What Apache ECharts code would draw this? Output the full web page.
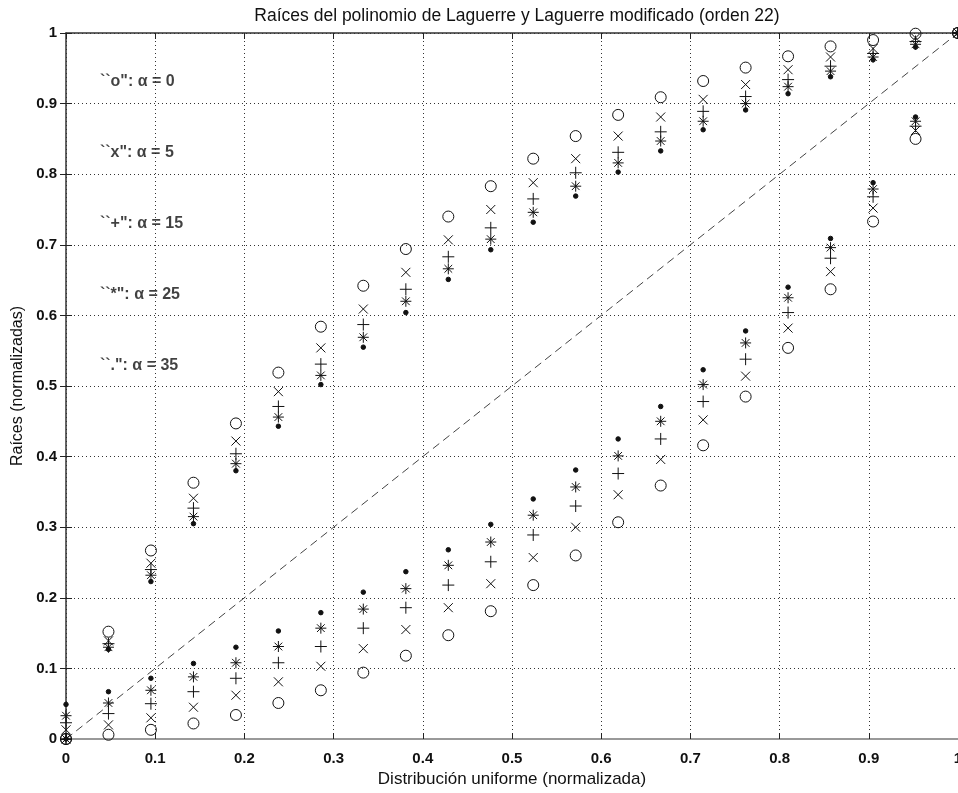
<!DOCTYPE html>
<html>
<head>
<meta charset="utf-8">
<script src="https://cdn.jsdelivr.net/npm/echarts@6/dist/echarts.min.js"></script>
<style>
html,body{margin:0;padding:0;background:#fff;}
#chart{width:958px;height:793px;}
</style>
</head>
<body>
<div id="chart"></div>
<script>
// Uniform distribution positions (normalized), 22 points
const xUniform = [0, 0.0476, 0.0952, 0.1429, 0.1905, 0.2381, 0.2857, 0.3333, 0.3810, 0.4286, 0.4762,
  0.5238, 0.5714, 0.6190, 0.6667, 0.7143, 0.7619, 0.8095, 0.8571, 0.9048, 0.9524, 1];

// Upper branch of roots
const upperA0  = [0, 0.152, 0.267, 0.363, 0.447, 0.519, 0.584, 0.642, 0.694, 0.740, 0.783, 0.822, 0.854, 0.884, 0.909, 0.932, 0.951, 0.967, 0.981, 0.990, 0.999, 1];
const upperA5  = [0, 0.139, 0.249, 0.341, 0.422, 0.492, 0.554, 0.609, 0.661, 0.707, 0.750, 0.788, 0.822, 0.854, 0.881, 0.906, 0.927, 0.948, 0.966, 0.978, 0.993, 1];
const upperA15 = [0, 0.135, 0.240, 0.327, 0.404, 0.471, 0.531, 0.587, 0.637, 0.683, 0.724, 0.765, 0.802, 0.831, 0.860, 0.889, 0.910, 0.934, 0.953, 0.971, 0.988, 1];
const upperA25 = [0, 0.130, 0.232, 0.315, 0.390, 0.456, 0.515, 0.569, 0.620, 0.666, 0.708, 0.746, 0.783, 0.816, 0.847, 0.875, 0.900, 0.924, 0.946, 0.966, 0.984, 1];
const upperA35 = [0, 0.127, 0.223, 0.305, 0.380, 0.443, 0.502, 0.555, 0.604, 0.651, 0.693, 0.732, 0.769, 0.803, 0.833, 0.863, 0.891, 0.914, 0.938, 0.962, 0.980, 1];

// Lower branch of roots
const lowerA0  = [0, 0.006, 0.013, 0.022, 0.034, 0.051, 0.069, 0.094, 0.118, 0.147, 0.181, 0.218, 0.260, 0.307, 0.359, 0.416, 0.485, 0.554, 0.637, 0.733, 0.850, 1];
const lowerA5  = [0.013, 0.020, 0.030, 0.045, 0.062, 0.081, 0.103, 0.128, 0.155, 0.186, 0.220, 0.257, 0.300, 0.346, 0.396, 0.452, 0.514, 0.582, 0.662, 0.752, 0.862, 1];
const lowerA15 = [0.023, 0.036, 0.050, 0.067, 0.086, 0.108, 0.131, 0.157, 0.186, 0.218, 0.251, 0.289, 0.330, 0.376, 0.425, 0.478, 0.538, 0.604, 0.681, 0.768, 0.868, 1];
const lowerA25 = [0.033, 0.051, 0.069, 0.088, 0.108, 0.131, 0.157, 0.184, 0.213, 0.246, 0.279, 0.317, 0.357, 0.401, 0.450, 0.502, 0.561, 0.625, 0.696, 0.779, 0.875, 1];
const lowerA35 = [0.049, 0.067, 0.086, 0.107, 0.130, 0.153, 0.179, 0.208, 0.237, 0.268, 0.304, 0.340, 0.381, 0.425, 0.471, 0.523, 0.578, 0.640, 0.709, 0.788, 0.881, 1];

// Annotation texts and their anchor points
const noteTexts = ['``o": \u03b1 = 0', '``x": \u03b1 = 5', '``+": \u03b1 = 15', '``*": \u03b1 = 25', '``.": \u03b1 = 35'];
const noteX = [0.038, 0.038, 0.038, 0.038, 0.038];
const noteY = [0.931, 0.830, 0.730, 0.629, 0.529];

const diagonal = [[0, 0], [1, 1]];

const FONT = '"Liberation Sans", Arial, Helvetica, sans-serif';

function pts(ys) { return xUniform.map((x, i) => [x, ys[i]]); }

const markerDefs = [
  { name: 'o', up: upperA0, low: lowerA0, symbol: 'circle', size: 11, fill: 'rgba(0,0,0,0)' },
  { name: 'x', up: upperA5, low: lowerA5, symbol: 'path://M0,0L10,10M10,0L0,10', size: 9, fill: 'rgba(0,0,0,0)' },
  { name: '+', up: upperA15, low: lowerA15, symbol: 'path://M5,0L5,10M0,5L10,5', size: 12, fill: 'rgba(0,0,0,0)' },
  { name: '*', up: upperA25, low: lowerA25, symbol: 'path://M5,0L5,10M0,5L10,5M1.5,1.5L8.5,8.5M8.5,1.5L1.5,8.5', size: 11, fill: 'rgba(0,0,0,0)' },
  { name: '.', up: upperA35, low: lowerA35, symbol: 'circle', size: 4.5, fill: '#111' }
];

const series = [{
  type: 'line',
  data: diagonal,
  symbol: 'none',
  lineStyle: { color: '#444', width: 1, type: [8, 5] },
  z: 1,
  silent: true
}];

markerDefs.forEach(m => {
  series.push({
    type: 'scatter',
    name: m.name,
    data: pts(m.up).concat(pts(m.low)),
    symbol: m.symbol,
    symbolSize: m.size,
    itemStyle: { color: m.fill, borderColor: '#111', borderWidth: 1, opacity: 1 },
    z: 3,
    silent: true
  });
});

series.push({
  type: 'scatter',
  data: noteTexts.map((t, i) => ({ value: [noteX[i], noteY[i]], label: { formatter: t } })),
  symbolSize: 0,
  label: { show: true, position: 'right', distance: 0, fontFamily: FONT, fontSize: 16, fontWeight: 'bold', color: '#111' },
  silent: true,
  z: 4
});

const chart = echarts.init(document.getElementById('chart'), null, { renderer: 'canvas' });
chart.setOption({
  animation: false,
  backgroundColor: '#fff',
  title: {
    text: 'Raíces del polinomio de Laguerre y Laguerre modificado (orden 22)',
    left: 512, textAlign: 'center', top: 2,
    textStyle: { fontFamily: FONT, fontSize: 17.5, fontWeight: 'normal', color: '#111' }
  },
  grid: { left: 66, right: 0, top: 33, bottom: 54, outerBoundsMode: 'none', containLabel: false },
  xAxis: [{
    type: 'value', min: 0, max: 1, interval: 0.1,
    name: 'Distribución uniforme (normalizada)', nameLocation: 'middle', nameGap: 29,
    nameTextStyle: { fontFamily: FONT, fontSize: 17, color: '#111' },
    axisLine: { show: true, lineStyle: { color: '#999', width: 2 } },
    axisTick: { show: true, inside: true, length: 6, lineStyle: { color: '#222' } },
    axisLabel: { fontFamily: FONT, fontSize: 15, fontWeight: 'bold', color: '#111', margin: 12 },
    splitLine: { show: true, lineStyle: { color: '#333', type: [1, 3], width: 1 } }
  }, {
    type: 'value', min: 0, max: 1, interval: 0.1, position: 'top',
    axisLine: { show: true, onZero: false, lineStyle: { color: '#333', width: 1.5 } },
    axisTick: { show: true, inside: true, length: 6, lineStyle: { color: '#222' } },
    axisLabel: { show: false },
    splitLine: { show: false }
  }],
  yAxis: [{
    type: 'value', min: 0, max: 1, interval: 0.1,
    name: 'Raíces (normalizadas)', nameLocation: 'middle', nameGap: 40,
    nameTextStyle: { fontFamily: FONT, fontSize: 16, color: '#111' },
    axisLine: { show: true, lineStyle: { color: '#333', width: 1.5 } },
    axisTick: { show: true, inside: true, length: 6, lineStyle: { color: '#222' } },
    axisLabel: { fontFamily: FONT, fontSize: 15, fontWeight: 'bold', color: '#111', margin: 9 },
    splitLine: { show: true, lineStyle: { color: '#333', type: [1, 3], width: 1 } }
  }, {
    type: 'value', min: 0, max: 1, interval: 0.1, position: 'right',
    axisLine: { show: false },
    axisTick: { show: true, inside: true, length: 6, lineStyle: { color: '#222' } },
    axisLabel: { show: false },
    splitLine: { show: false }
  }],
  series: series
});
</script>
</body>
</html>
